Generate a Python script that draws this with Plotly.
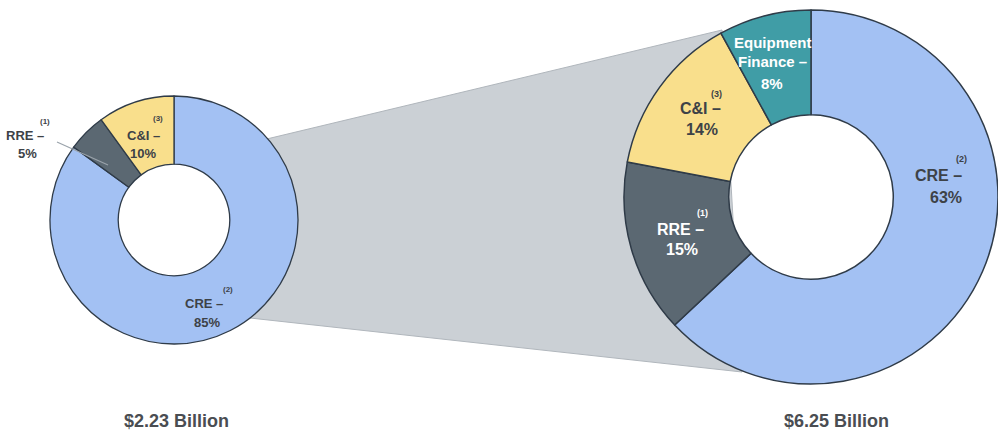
import plotly.graph_objects as go

W, H = 998, 434

# ---- data ----
left_labels = ["CRE", "RRE", "C&I"]
left_values = [85, 5, 10]
left_total = "$2.23 Billion"

right_labels = ["CRE", "RRE", "C&I", "Equipment Finance"]
right_values = [63, 15, 14, 8]
right_total = "$6.25 Billion"

colors = {"CRE": "#a3c1f3", "RRE": "#5b6872", "C&I": "#f9df8c", "Equipment Finance": "#409da6"}


def px(x, y):
    return x / W, 1 - y / H


def dom(cx, cy, r):
    return dict(x=[max(0, (cx - r) / W), min(1, (cx + r) / W)],
                y=[1 - (cy + r) / H, 1 - (cy - r) / H])


fig = go.Figure()

fig.add_trace(go.Pie(
    labels=left_labels, values=left_values, sort=False, direction="clockwise",
    rotation=0, hole=0.45, textinfo="none", hoverinfo="label+percent",
    marker=dict(colors=[colors[l] for l in left_labels], line=dict(color="#2f3b48", width=1.3)),
    domain=dom(174, 220, 124), showlegend=False,
))
fig.add_trace(go.Pie(
    labels=right_labels, values=right_values, sort=False, direction="clockwise",
    rotation=0, hole=0.44, textinfo="none", hoverinfo="label+percent",
    marker=dict(colors=[colors[l] for l in right_labels], line=dict(color="#2f3b48", width=1.5)),
    domain=dom(811, 197, 187), showlegend=False,
))


def poly(points):
    return "M " + " L ".join(f"{px(x, y)[0]},{px(x, y)[1]}" for x, y in points) + " Z"


# connecting grey band (decoration)
fig.add_shape(type="path", path=poly([(250, 143), (722, 30), (742, 372), (250, 318)]),
              xref="paper", yref="paper", fillcolor="#cbd0d5",
              line=dict(color="#b0b6bc", width=1), layer="below")

dark = "#3d4247"
white = "#ffffff"
FONT = "Liberation Sans"

ann = []


def label(x, y, text, size, color):
    ax, ay = px(x, y)
    ann.append(dict(x=ax, y=ay, xref="paper", yref="paper", text=f"<b>{text}</b>",
                    showarrow=False, xanchor="center", yanchor="middle",
                    font=dict(family=FONT, size=size, color=color)))


# left donut labels
label(143, 135, "C&I –", 13, dark)
label(143, 153, f"{left_values[2]}%", 13, dark)
label(158, 119, "(3)", 8, dark)
label(25, 135, "RRE –", 13, dark)
label(27, 153, f"{left_values[1]}%", 13, dark)
label(45, 121, "(1)", 8, dark)
label(204, 303, "CRE –", 13, dark)
label(207, 322, f"{left_values[0]}%", 13, dark)
label(228, 289, "(2)", 8, dark)

# right donut labels
label(773, 42, "Equipment", 15, white)
label(772, 62, "Finance –", 15, white)
label(772, 83, f"{right_values[3]}%", 15, white)
label(700, 109, "C&I –", 16, dark)
label(702, 130, f"{right_values[2]}%", 16, dark)
label(716, 94, "(3)", 9, dark)
label(938, 175, "CRE –", 16, dark)
label(946, 197, f"{right_values[0]}%", 16, dark)
label(961, 159, "(2)", 9, dark)
label(680, 229, "RRE –", 16, white)
label(682, 250, f"{right_values[1]}%", 16, white)
label(702, 213, "(1)", 9, white)

# totals
label(176, 421, left_total, 18, "#4a4d52")
label(836, 421, right_total, 18, "#4a4d52")

fig.update_layout(annotations=ann)

# leader line for RRE on left donut
x0, y0 = px(57, 142)
x1, y1 = px(108, 165)
fig.add_shape(type="line", x0=x0, y0=y0, x1=x1, y1=y1, xref="paper", yref="paper",
              line=dict(color="#9aa3ab", width=1.2))

fig.update_layout(width=W, height=H, margin=dict(l=0, r=0, t=0, b=0),
                  paper_bgcolor="white", plot_bgcolor="white")

fig.write_html("out.html")
